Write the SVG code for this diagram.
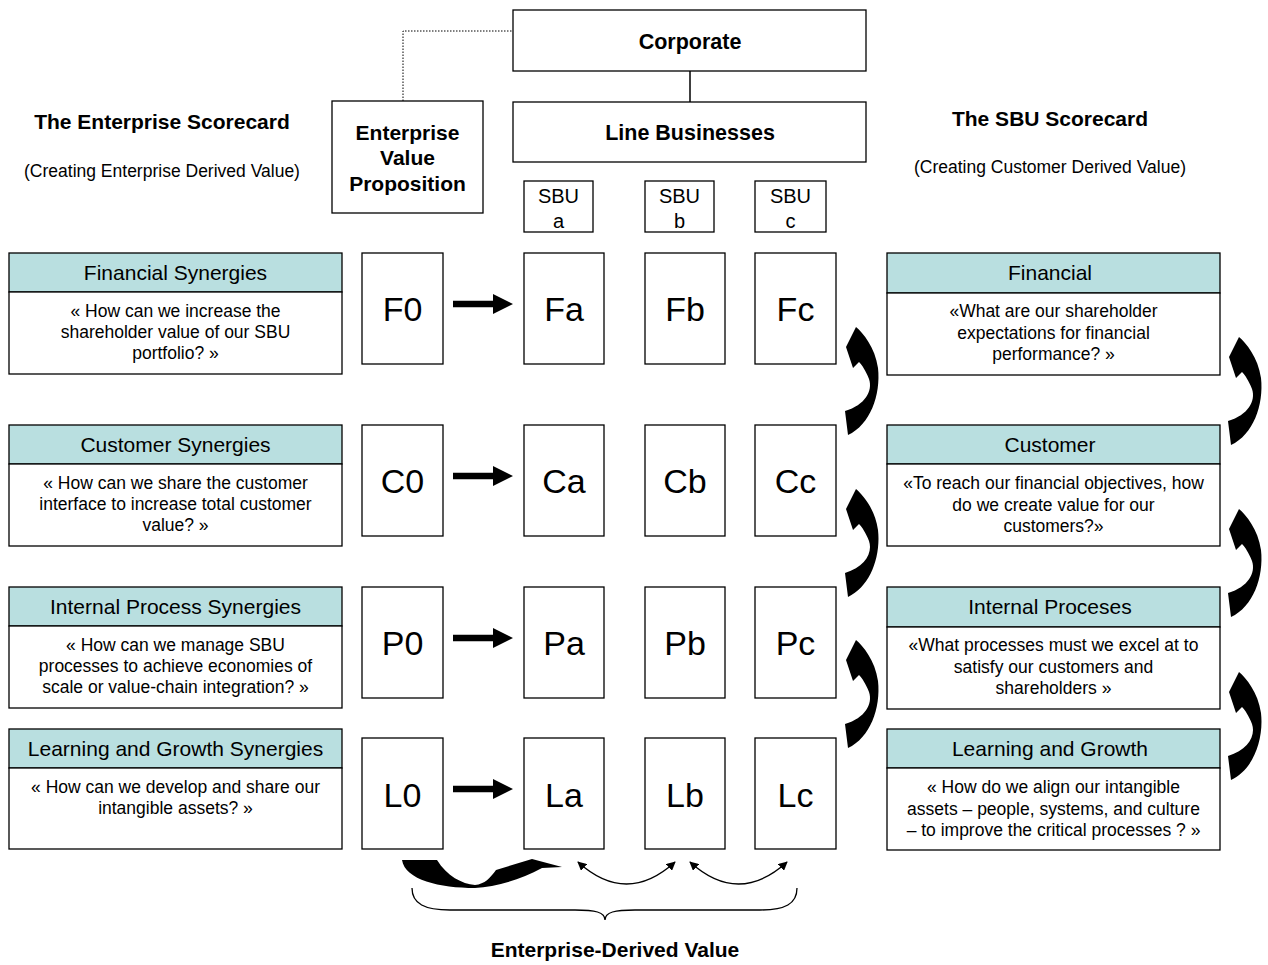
<svg xmlns="http://www.w3.org/2000/svg" width="1268" height="965" viewBox="0 0 1268 965">
<style>
text{font-family:"Liberation Sans",Arial,sans-serif;fill:#000}
.box{fill:#fff;stroke:#000;stroke-width:1.3}
.hdr{fill:#b9dfe0;stroke:#000;stroke-width:1.3}
.ht{font-size:21px;text-anchor:middle}
.bt{font-size:17.5px;text-anchor:middle}
.big{font-size:34px;text-anchor:middle}
.bold{font-weight:bold;text-anchor:middle}
.sbu{font-size:20px;text-anchor:middle}
.thin{fill:none;stroke:#000;stroke-width:1.3}
</style>
<defs>
<marker id="ah" viewBox="0 0 10 10" refX="9" refY="5" markerWidth="9" markerHeight="9" orient="auto-start-reverse" markerUnits="userSpaceOnUse"><path d="M0,0 L10,5 L0,10 Z" fill="#000"/></marker>
<path id="curl" d="M11 2 C18 8 30 22 33 43 C36 70 25 100 3 110 L0 86 C20 80 28 66 24 54 C21 46 17 40 14 37 L8 43 L1 22 Z" fill="#000"/>
<polygon id="rarr" points="0,-3.3 40,-3.3 40,-10 60,0 40,10 40,3.3 0,3.3" fill="#000"/>
</defs>

<g id="titles">
<text x="162" y="129" class="bold" font-size="21">The Enterprise Scorecard</text>
<text x="162" y="177" font-size="17.5" text-anchor="middle">(Creating Enterprise Derived Value)</text>
<text x="1050" y="126" class="bold" font-size="21">The SBU Scorecard</text>
<text x="1050" y="173" font-size="17.5" text-anchor="middle">(Creating Customer Derived Value)</text>
<text x="615" y="957" class="bold" font-size="21">Enterprise-Derived Value</text>
</g>

<g id="corporate"><rect class="box" x="513" y="10" width="353" height="61"/><text x="690" y="49" class="bold" font-size="21.5">Corporate</text></g>
<g id="line-businesses"><rect class="box" x="513" y="102" width="353" height="60"/><text x="690" y="140" class="bold" font-size="21.5">Line Businesses</text></g>
<g id="evp"><rect class="box" x="332" y="101" width="151" height="112"/>
<text x="407.5" y="140" class="bold" font-size="21">Enterprise</text>
<text x="407.5" y="165" class="bold" font-size="21">Value</text>
<text x="407.5" y="191" class="bold" font-size="21">Proposition</text></g>

<g id="sbu-a"><rect class="box" x="524" y="181" width="69" height="51"/><text x="558.5" y="203" class="sbu">SBU</text><text x="558.5" y="228" class="sbu">a</text></g>
<g id="sbu-b"><rect class="box" x="645" y="181" width="69" height="51"/><text x="679.5" y="203" class="sbu">SBU</text><text x="679.5" y="228" class="sbu">b</text></g>
<g id="sbu-c"><rect class="box" x="755" y="181" width="71" height="51"/><text x="790.5" y="203" class="sbu">SBU</text><text x="790.5" y="228" class="sbu">c</text></g>

<!-- Left perspective boxes -->
<g id="financial-synergies"><rect class="hdr" x="9" y="253" width="333" height="39"/><rect class="box" x="9" y="292" width="333" height="82"/>
<text x="175.5" y="280" class="ht">Financial Synergies</text>
<text x="175.5" y="317" class="bt">« How can we increase the</text>
<text x="175.5" y="338" class="bt">shareholder value of our SBU</text>
<text x="175.5" y="359" class="bt">portfolio? »</text></g>
<g id="customer-synergies"><rect class="hdr" x="9" y="425" width="333" height="39"/><rect class="box" x="9" y="464" width="333" height="82"/>
<text x="175.5" y="452" class="ht">Customer Synergies</text>
<text x="175.5" y="489" class="bt">« How can we share the customer</text>
<text x="175.5" y="510" class="bt">interface to increase total customer</text>
<text x="175.5" y="531" class="bt">value? »</text></g>
<g id="process-synergies"><rect class="hdr" x="9" y="587" width="333" height="39"/><rect class="box" x="9" y="626" width="333" height="82"/>
<text x="175.5" y="614" class="ht">Internal Process Synergies</text>
<text x="175.5" y="651" class="bt">« How can we manage SBU</text>
<text x="175.5" y="672" class="bt">processes to achieve economies of</text>
<text x="175.5" y="693" class="bt">scale or value-chain integration? »</text></g>
<g id="learning-synergies"><rect class="hdr" x="9" y="729" width="333" height="39"/><rect class="box" x="9" y="768" width="333" height="81"/>
<text x="175.5" y="756" class="ht">Learning and Growth Synergies</text>
<text x="175.5" y="793" class="bt">« How can we develop and share our</text>
<text x="175.5" y="814" class="bt">intangible assets? »</text></g>

<!-- Right perspective boxes -->
<g id="financial"><rect class="hdr" x="887" y="253" width="333" height="40"/><rect class="box" x="887" y="293" width="333" height="82"/>
<text x="1050" y="280" class="ht">Financial</text>
<text x="1053.5" y="317" class="bt">«What are our shareholder</text>
<text x="1053.5" y="339" class="bt">expectations for financial</text>
<text x="1053.5" y="360" class="bt">performance? »</text></g>
<g id="customer"><rect class="hdr" x="887" y="425" width="333" height="39"/><rect class="box" x="887" y="464" width="333" height="82"/>
<text x="1050" y="452" class="ht">Customer</text>
<text x="1053.5" y="489" class="bt">«To reach our financial objectives, how</text>
<text x="1053.5" y="511" class="bt">do we create value for our</text>
<text x="1053.5" y="532" class="bt">customers?»</text></g>
<g id="internal-processes"><rect class="hdr" x="887" y="587" width="333" height="40"/><rect class="box" x="887" y="627" width="333" height="82"/>
<text x="1050" y="614" class="ht">Internal Proceses</text>
<text x="1053.5" y="651" class="bt">«What processes must we excel at to</text>
<text x="1053.5" y="673" class="bt">satisfy our customers and</text>
<text x="1053.5" y="694" class="bt">shareholders »</text></g>
<g id="learning-growth"><rect class="hdr" x="887" y="729" width="333" height="39"/><rect class="box" x="887" y="768" width="333" height="82"/>
<text x="1050" y="756" class="ht">Learning and Growth</text>
<text x="1053.5" y="793" class="bt">« How do we align our intangible</text>
<text x="1053.5" y="815" class="bt">assets – people, systems, and culture</text>
<text x="1053.5" y="836" class="bt">– to improve the critical processes ? »</text></g>

<!-- Grid cells -->
<g id="F0"><rect class="box" x="362" y="253" width="81" height="111"/><text x="402.5" y="321" class="big">F0</text></g>
<g id="Fa"><rect class="box" x="524" y="253" width="80" height="111"/><text x="564" y="321" class="big">Fa</text></g>
<g id="Fb"><rect class="box" x="645" y="253" width="80" height="111"/><text x="685" y="321" class="big">Fb</text></g>
<g id="Fc"><rect class="box" x="755" y="253" width="81" height="111"/><text x="795.5" y="321" class="big">Fc</text></g>
<g id="C0"><rect class="box" x="362" y="425" width="81" height="111"/><text x="402.5" y="493" class="big">C0</text></g>
<g id="Ca"><rect class="box" x="524" y="425" width="80" height="111"/><text x="564" y="493" class="big">Ca</text></g>
<g id="Cb"><rect class="box" x="645" y="425" width="80" height="111"/><text x="685" y="493" class="big">Cb</text></g>
<g id="Cc"><rect class="box" x="755" y="425" width="81" height="111"/><text x="795.5" y="493" class="big">Cc</text></g>
<g id="P0"><rect class="box" x="362" y="587" width="81" height="111"/><text x="402.5" y="655" class="big">P0</text></g>
<g id="Pa"><rect class="box" x="524" y="587" width="80" height="111"/><text x="564" y="655" class="big">Pa</text></g>
<g id="Pb"><rect class="box" x="645" y="587" width="80" height="111"/><text x="685" y="655" class="big">Pb</text></g>
<g id="Pc"><rect class="box" x="755" y="587" width="81" height="111"/><text x="795.5" y="655" class="big">Pc</text></g>
<g id="L0"><rect class="box" x="362" y="738" width="81" height="111"/><text x="402.5" y="807" class="big">L0</text></g>
<g id="La"><rect class="box" x="524" y="738" width="80" height="111"/><text x="564" y="807" class="big">La</text></g>
<g id="Lb"><rect class="box" x="645" y="738" width="80" height="111"/><text x="685" y="807" class="big">Lb</text></g>
<g id="Lc"><rect class="box" x="755" y="738" width="81" height="111"/><text x="795.5" y="807" class="big">Lc</text></g>

<g id="connectors">
<path d="M403 101 V31 H513" fill="none" stroke="#000" stroke-width="1" stroke-dasharray="1.5,1.5"/>
<line x1="690" y1="71" x2="690" y2="102" stroke="#000" stroke-width="1.5"/>
<use href="#rarr" x="453" y="304"/>
<use href="#rarr" x="453" y="476"/>
<use href="#rarr" x="453" y="638"/>
<use href="#rarr" x="453" y="789"/>
<use href="#curl" x="845" y="325"/>
<use href="#curl" x="845" y="487"/>
<use href="#curl" x="845" y="638"/>
<use href="#curl" x="1228" y="335"/>
<use href="#curl" x="1228" y="507"/>
<use href="#curl" x="1228" y="670"/>
<path d="M402 860 L437 860 C447 876 462 884 475 885 C485 884 490 878 496 870 L532 859 L562 867 L542 868 C520 880 495 887 475 888 C440 888 405 880 402 860 Z" fill="#000"/>
<path class="thin" d="M578 862 Q626.5 906 675 862" marker-start="url(#ah)" marker-end="url(#ah)"/>
<path class="thin" d="M690 862 Q738.5 906 787 862" marker-start="url(#ah)" marker-end="url(#ah)"/>
<path class="thin" d="M412 888 C412 904 425 910 450 910 L575 910 C595 910 605 912 605 920 C605 912 615 910 635 910 L760 910 C785 910 797 904 797 888"/>
</g>
</svg>
